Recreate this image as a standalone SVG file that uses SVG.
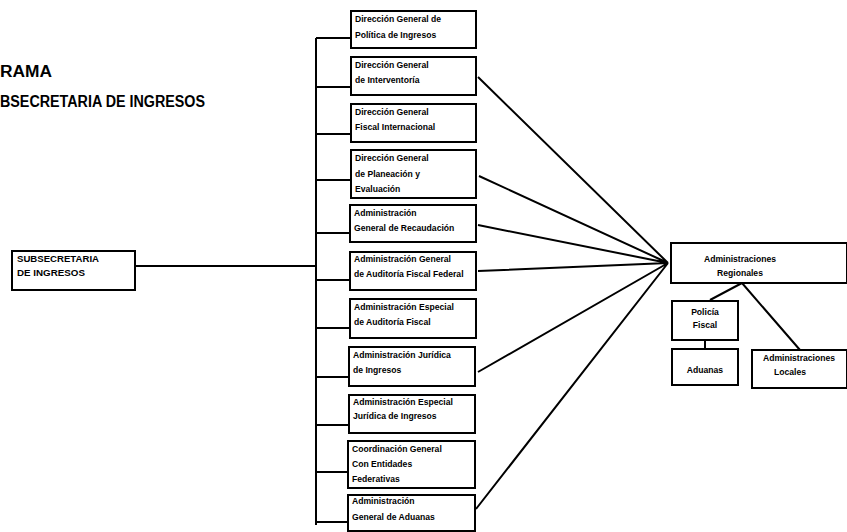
<svg xmlns="http://www.w3.org/2000/svg" width="847" height="532" viewBox="0 0 847 532">
<style>
.b{fill:#fff;stroke:#000;stroke-width:2}
.t{font-family:"Liberation Sans",Arial,sans-serif;font-weight:bold;font-size:8.6px;fill:#000}
.h{font-family:"Liberation Sans",Arial,sans-serif;font-weight:bold;font-size:16px;fill:#000}
.c{stroke:#000;stroke-width:2;fill:none}
</style>
<rect width="847" height="532" fill="#fff"/>
<text class="h" x="0" y="77" textLength="52" lengthAdjust="spacingAndGlyphs">RAMA</text>
<text class="h" x="0" y="107" textLength="205" lengthAdjust="spacingAndGlyphs">BSECRETARIA DE INGRESOS</text>
<g id="connectors">
<path class="c" d="M135 266H316M316 38V525M316 38H350M316 87H350M316 134H350M316 180H350M316 233H350M316 280H350M316 328H350M316 377H350M316 425H350M316 472H350M316 522H350"/>
<path class="c" d="M478 77L668 263M479 176L668 263M478 225L668 263M478 271L668 263M478 372L668 263M476 509L668 263"/>
<path class="c" d="M742 283L710 300M742 283L800 350M705 340V348"/>
</g>
<g id="subsecretaria"><rect class="b" x="12" y="251" width="123" height="39"/><text class="t" x="17" y="262" textLength="82" lengthAdjust="spacingAndGlyphs">SUBSECRETARIA</text><text class="t" x="17" y="276" textLength="68" lengthAdjust="spacingAndGlyphs">DE INGRESOS</text></g>
<g id="n1"><rect class="b" x="351" y="11" width="125" height="37"/><text class="t" x="355" y="22">Dirección General de</text><text class="t" x="355" y="38">Política de Ingresos</text></g>
<g id="n2"><rect class="b" x="351" y="57" width="125" height="38"/><text class="t" x="355" y="68">Dirección General</text><text class="t" x="355" y="83">de Interventoría</text></g>
<g id="n3"><rect class="b" x="351" y="104" width="125" height="38"/><text class="t" x="355" y="115">Dirección General</text><text class="t" x="355" y="130">Fiscal Internacional</text></g>
<g id="n4"><rect class="b" x="351" y="150" width="125" height="48"/><text class="t" x="355" y="161">Dirección General</text><text class="t" x="355" y="177">de Planeación y</text><text class="t" x="355" y="192">Evaluación</text></g>
<g id="n5"><rect class="b" x="350" y="205" width="126" height="37"/><text class="t" x="354" y="216">Administración</text><text class="t" x="354" y="231">General de Recaudación</text></g>
<g id="n6"><rect class="b" x="350" y="252" width="126" height="38"/><text class="t" x="354" y="262">Administración General</text><text class="t" x="354" y="277">de Auditoría Fiscal Federal</text></g>
<g id="n7"><rect class="b" x="350" y="299" width="126" height="39"/><text class="t" x="354" y="310">Administración Especial</text><text class="t" x="354" y="325">de Auditoría Fiscal</text></g>
<g id="n8"><rect class="b" x="349" y="347" width="126" height="39"/><text class="t" x="353" y="358">Administración Jurídica</text><text class="t" x="353" y="373">de Ingresos</text></g>
<g id="n9"><rect class="b" x="349" y="395" width="126" height="38"/><text class="t" x="353" y="405">Administración Especial</text><text class="t" x="353" y="419">Jurídica de Ingresos</text></g>
<g id="n10"><rect class="b" x="348" y="441" width="127" height="47"/><text class="t" x="352" y="452">Coordinación General</text><text class="t" x="352" y="467">Con Entidades</text><text class="t" x="352" y="482">Federativas</text></g>
<g id="n11"><rect class="b" x="348" y="495" width="127" height="36"/><text class="t" x="352" y="504">Administración</text><text class="t" x="352" y="520">General de Aduanas</text></g>
<g id="regionales"><rect class="b" x="671" y="243" width="176" height="40"/><text class="t" x="740" y="262" text-anchor="middle">Administraciones</text><text class="t" x="740" y="276" text-anchor="middle">Regionales</text></g>
<g id="policia"><rect class="b" x="672" y="301" width="66" height="39"/><text class="t" x="705" y="315" text-anchor="middle">Policía</text><text class="t" x="705" y="328" text-anchor="middle">Fiscal</text></g>
<g id="aduanas"><rect class="b" x="672" y="349" width="66" height="36"/><text class="t" x="705" y="373" text-anchor="middle">Aduanas</text></g>
<g id="locales"><rect class="b" x="752" y="350" width="95" height="38"/><text class="t" x="799" y="361" text-anchor="middle">Administraciones</text><text class="t" x="790" y="375" text-anchor="middle">Locales</text></g>
</svg>
